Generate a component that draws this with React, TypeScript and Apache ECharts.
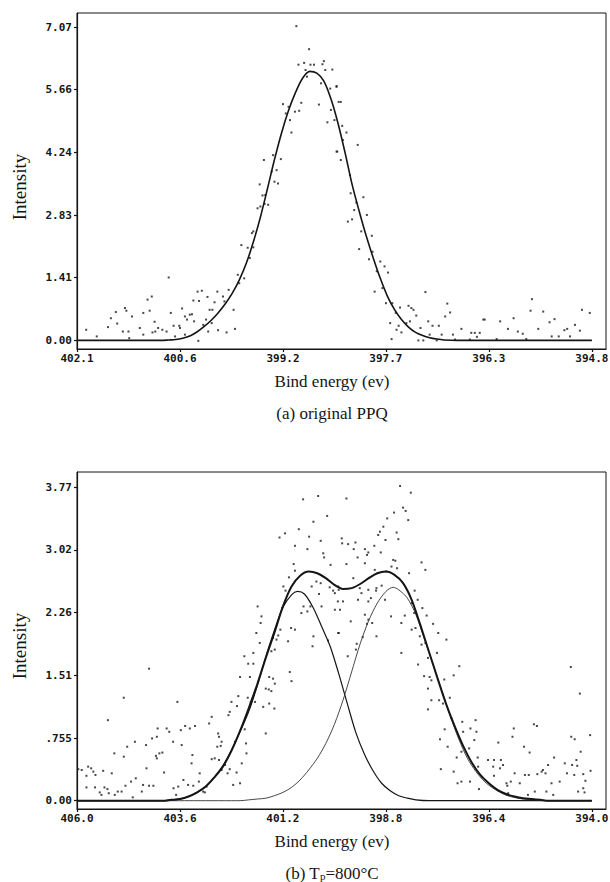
import React, { useEffect, useRef } from "react";
import * as echarts from "echarts";

// ---------- tick values / labels ----------
const topXTicks = [402.1, 400.64, 399.18, 397.72, 396.26, 394.8];
const topXLabels = ["402.1", "400.6", "399.2", "397.7", "396.3", "394.8"];
const topYTicks = [0, 1.414, 2.828, 4.242, 5.656, 7.07];
const topYLabels = ["0.00", "1.41", "2.83", "4.24", "5.66", "7.07"];
const botXTicks = [406.0, 403.6, 401.2, 398.8, 396.4, 394.0];
const botXLabels = ["406.0", "403.6", "401.2", "398.8", "396.4", "394.0"];
const botYTicks = [0, 0.755, 1.51, 2.265, 3.02, 3.775];
const botYLabels = ["0.00", ".755", "1.51", "2.26", "3.02", "3.77"];

// ---------- (a) original PPQ ----------
const topFit: number[][] = [
  [402.1, 0], [401.5, 0], [401.0, 0], [400.9, 0], [400.8, 0.01], [400.7, 0.02], [400.6, 0.05],
  [400.5, 0.1], [400.4, 0.19], [400.3, 0.31], [400.2, 0.45], [400.1, 0.62], [400.0, 0.82],
  [399.9, 1.06], [399.8, 1.36], [399.7, 1.74], [399.6, 2.22], [399.5, 2.78], [399.4, 3.42],
  [399.3, 4.08], [399.2, 4.68], [399.1, 5.19], [399.0, 5.6], [398.9, 5.92], [398.8, 6.07],
  [398.7, 6.03], [398.6, 5.85], [398.5, 5.45], [398.4, 4.9], [398.3, 4.24], [398.2, 3.52],
  [398.1, 2.92], [398.0, 2.36], [397.9, 1.86], [397.8, 1.4], [397.7, 1.0], [397.6, 0.7],
  [397.5, 0.47], [397.4, 0.3], [397.3, 0.18], [397.2, 0.11], [397.1, 0.06], [397.0, 0.03],
  [396.9, 0.01], [396.7, 0], [396.0, 0], [395.5, 0], [394.8, 0],
];

const topScatter: number[][] = [
  [398.99, 7.09], [398.81, 6.57], [398.96, 6.22], [398.88, 6.26], [398.79, 6.22], [398.74, 6.22],
  [398.6, 6.3], [398.62, 6.23], [398.58, 6.1], [398.48, 6.11], [398.86, 6.1], [398.42, 5.74],
  [398.64, 5.8], [398.51, 5.68], [398.67, 5.32], [398.84, 5.95], [398.92, 5.36], [399.01, 5.16],
  [398.95, 5.18], [399.18, 5.33], [399.1, 5.27], [399.14, 5.12], [399.08, 4.97], [399.06, 4.69],
  [398.55, 4.92], [398.45, 4.97], [398.36, 5.38], [398.41, 4.26], [398.5, 5.2],
  [399.32, 4.18], [399.45, 4.07], [399.34, 3.81], [399.27, 3.84], [399.21, 4.09], [399.3, 3.58],
  [399.25, 3.54], [399.51, 3.52], [399.43, 3.28], [399.47, 3.27], [399.54, 2.98], [399.5, 3.02],
  [399.39, 3.06], [399.44, 3.08], [399.6, 2.46], [399.62, 2.42], [399.77, 2.15], [399.68, 2.09],
  [399.6, 2.1], [399.65, 1.86], [399.82, 1.48], [399.8, 1.29], [399.73, 1.4], [399.88, 0.69],
  [399.95, 1.14], [400.03, 0.99], [400.01, 0.88], [400.15, 0.86], [400.11, 1.1], [400.22, 0.69],
  [400.19, 0.39], [400.27, 0.47], [400.31, 0.35], [400.24, 0.2], [400.1, 0.23], [399.98, 0.18],
  [399.86, 0.26],
  [400.8, 1.42], [401.04, 0.99], [401.1, 0.92], [401.16, 0.62], [401.07, 0.67], [401.42, 0.73],
  [401.4, 0.67], [401.55, 0.64], [401.62, 0.5], [401.53, 0.38], [401.66, 0.3], [401.45, 0.2],
  [401.37, 0.2], [401.32, 0.54], [401.21, 0.28], [401.0, 0.42], [401.03, 0.18], [400.95, 0.28],
  [400.89, 0.24], [400.83, 0.2], [400.77, 0.62], [400.73, 0.33], [400.65, 0.33], [400.64, 0.28],
  [400.61, 0.72], [400.57, 0.54], [400.5, 0.58], [400.47, 0.59], [400.54, 0.47], [400.44, 0.43],
  [400.45, 0.9], [400.39, 1.1], [400.33, 1.12], [400.37, 0.89], [400.25, 0.98], [400.18, 0.69],
  [400.57, 0.13], [400.71, 0.09], [400.38, -0.01], [401.97, 0.24], [401.82, 0.09], [401.36, 0.05],
  [401.16, 0.13], [400.99, 0.2],
  [398.42, 5.72], [398.39, 5.38], [398.42, 4.26], [398.36, 4.07], [398.34, 4.84], [398.33, 4.52],
  [398.28, 4.69], [398.12, 4.41], [398.23, 3.73], [398.22, 3.32], [398.14, 3.11], [398.17, 2.94],
  [398.04, 3.23], [398.26, 2.68], [398.2, 2.73], [397.99, 2.83], [398.07, 2.46], [398.1, 2.06],
  [397.92, 2.36], [397.91, 2.0], [397.96, 1.83], [397.85, 1.56], [397.8, 1.78], [397.74, 1.67],
  [397.69, 1.53], [397.88, 1.1], [397.77, 1.18], [397.72, 0.84], [397.63, 0.84], [397.58, 0.62],
  [397.52, 0.74], [397.66, 0.39], [397.57, 0.24], [397.5, 0.18], [397.64, 0.03], [397.54, 0.33],
  [397.43, 0.39], [397.4, 0.78], [397.36, 0.73], [397.33, 0.69], [397.29, 0.56], [397.38, 0.43],
  [397.16, 1.09], [397.23, 0.28], [397.12, 0.43], [397.06, 0.33], [396.97, 0.33], [396.93, 0.13],
  [397.1, 0.13], [397.26, 0.0], [397.19, 0.0], [397.0, 0.0], [396.88, 0.54], [396.85, 0.83],
  [396.81, 0.63], [396.77, 0.13], [396.65, 0.26], [396.51, 0.17], [396.46, 0.17], [396.39, 0.17],
  [396.43, 0.08], [396.34, 0.47], [396.32, 0.47], [396.15, 0.03], [396.1, 0.43], [395.99, 0.26],
  [395.91, 0.5], [395.85, 0.2], [395.78, 0.15], [395.67, 0.67], [395.65, 0.93], [395.56, 0.26],
  [395.49, 0.65], [395.4, 0.41], [395.33, 0.48], [395.37, 0.09], [395.27, 0.09], [395.19, 0.23],
  [395.15, 0.26], [395.11, 0.09], [395.04, 0.35], [394.97, 0.22], [394.94, 0.69], [394.83, 0.62],
  [395.73, 0.03], [396.74, 0.02], [396.53, 0.02],
];

// ---------- (b) Tp = 800°C ----------
const botEnvelope: number[][] = [
  [406.0, 0], [404.6, 0], [404.2, 0], [404.0, 0], [403.8, 0.01], [403.6, 0.02], [403.4, 0.05],
  [403.2, 0.1], [403.0, 0.17], [402.8, 0.28], [402.6, 0.41], [402.4, 0.6], [402.2, 0.84],
  [402.0, 1.11], [401.8, 1.4], [401.6, 1.72], [401.4, 2.02], [401.2, 2.34], [401.0, 2.58],
  [400.8, 2.71], [400.6, 2.76], [400.4, 2.74], [400.2, 2.68], [400.0, 2.6], [399.8, 2.55],
  [399.6, 2.56], [399.4, 2.61], [399.2, 2.68], [399.0, 2.74], [398.8, 2.76], [398.6, 2.72],
  [398.4, 2.62], [398.2, 2.42], [398.0, 2.12], [397.8, 1.8], [397.6, 1.48], [397.4, 1.17],
  [397.2, 0.9], [397.0, 0.66], [396.8, 0.46], [396.6, 0.31], [396.4, 0.21], [396.2, 0.13],
  [396.0, 0.08], [395.8, 0.05], [395.6, 0.03], [395.4, 0.02], [395.2, 0.01], [395.0, 0],
  [394.6, 0], [394.0, 0],
];

const botPeak1: number[][] = [
  [406.0, 0], [404.6, 0], [404.2, 0], [404.0, 0], [403.8, 0.01], [403.6, 0.02], [403.4, 0.05],
  [403.2, 0.1], [403.0, 0.17], [402.8, 0.28], [402.6, 0.42], [402.4, 0.61], [402.2, 0.83],
  [402.0, 1.07], [401.8, 1.38], [401.6, 1.73], [401.4, 2.05], [401.2, 2.33], [401.0, 2.48],
  [400.86, 2.52], [400.7, 2.49], [400.5, 2.33], [400.3, 2.1], [400.1, 1.86], [399.9, 1.53],
  [399.7, 1.17], [399.5, 0.82], [399.3, 0.56], [399.1, 0.36], [398.9, 0.21], [398.7, 0.12],
  [398.5, 0.06], [398.3, 0.03], [398.1, 0.01], [397.8, 0], [397.4, 0], [396.0, 0], [394.0, 0],
];

const botPeak2: number[][] = [
  [406.0, 0], [403.0, 0], [402.4, 0], [402.2, 0], [402.0, 0.01], [401.8, 0.02], [401.6, 0.03],
  [401.4, 0.06], [401.2, 0.1], [401.0, 0.16], [400.8, 0.25], [400.6, 0.37], [400.4, 0.51],
  [400.2, 0.69], [400.0, 0.92], [399.8, 1.21], [399.6, 1.55], [399.4, 1.89], [399.2, 2.17],
  [399.0, 2.38], [398.8, 2.52], [398.63, 2.57], [398.5, 2.54], [398.3, 2.44], [398.1, 2.24],
  [397.9, 1.94], [397.7, 1.64], [397.5, 1.33], [397.3, 1.02], [397.1, 0.74], [396.9, 0.51],
  [396.7, 0.35], [396.5, 0.23], [396.3, 0.15], [396.1, 0.09], [395.9, 0.05], [395.6, 0.02],
  [395.3, 0.01], [395.0, 0], [394.6, 0], [394.0, 0],
];

const botScatter: number[][] = [
  [400.38, 3.67], [400.73, 3.63], [400.49, 3.36], [400.83, 3.27], [401.15, 3.22], [401.28, 3.17],
  [400.32, 3.13], [400.59, 3.18], [400.92, 3.07], [400.63, 3.03], [400.26, 2.98], [400.24, 2.93],
  [400.09, 2.84], [400.95, 2.85], [400.92, 2.77], [401.06, 2.69], [400.17, 3.43], [400.42, 2.64],
  [400.53, 2.58], [400.32, 2.62], [400.11, 2.57], [400.03, 2.53], [399.99, 2.5], [399.91, 2.58],
  [399.87, 2.3], [399.9, 2.02], [400.3, 2.34], [400.15, 1.93], [400.36, 2.49], [400.56, 2.34],
  [400.72, 2.34], [400.77, 2.26], [400.63, 2.28], [400.49, 1.98], [400.51, 1.86], [400.92, 2.06],
  [401.01, 2.08], [401.26, 2.06], [401.08, 1.92], [401.19, 2.58], [401.14, 2.53], [401.22, 2.32],
  [401.43, 1.96], [401.35, 1.94], [401.39, 1.82], [401.47, 1.8], [401.31, 1.99], [401.04, 1.55],
  [401.0, 1.44], [401.52, 1.49], [401.43, 1.47], [401.39, 1.41], [401.6, 1.35], [401.53, 1.34],
  [401.47, 1.32], [401.52, 1.17], [401.66, 1.13], [401.4, 1.11], [401.6, 0.81], [401.7, 2.22],
  [401.79, 2.34], [401.72, 2.14], [401.74, 1.9], [401.82, 2.02], [402.01, 1.65], [401.97, 1.49],
  [401.89, 1.78], [401.89, 1.65], [401.85, 1.19], [401.95, 1.19], [402.02, 1.24], [402.1, 1.74],
  [402.2, 1.49], [402.24, 1.26], [402.27, 1.14], [402.09, 0.86], [402.16, 0.45], [402.2, 0.21],
  [402.28, 0.34], [402.36, 0.19], [402.44, 0.38], [402.49, 0.33], [402.55, 0.43], [402.63, 0.37],
  [402.69, 0.49], [402.73, 0.65], [402.65, 0.66], [402.63, 0.71], [402.69, 0.77], [402.71, 0.81],
  [402.86, 1.01], [402.92, 0.93], [402.47, 1.03], [402.44, 1.07], [402.4, 1.19], [402.32, 0.71],
  [402.06, 0.69], [402.05, 0.57], [402.86, 0.5], [402.79, 0.51], [402.98, 0.17], [403.06, 0.11],
  [403.02, 0.1], [403.14, 0.33], [403.33, 0.45], [403.31, 0.55], [403.37, 0.87], [403.25, 0.9],
  [403.48, 0.9], [403.66, 1.19], [403.56, 0.67], [403.58, 0.85], [403.76, 0.71], [403.75, 0.15],
  [403.69, 0.07], [403.64, 0.17], [403.52, 0.25], [403.41, 0.19], [403.29, 0.18], [403.16, 0.23],
  [403.85, 0.83], [403.91, 0.87], [404.12, 0.87], [404.14, 0.77], [404.25, 0.75], [404.01, 0.58],
  [404.08, 0.57], [404.16, 0.54], [403.97, 0.34], [404.14, 0.51], [404.32, 1.59], [404.39, 0.67],
  [404.38, 0.39], [404.22, 0.18], [404.32, 0.18], [404.49, 0.11], [404.63, 0.27], [404.65, 0.71],
  [404.74, 0.23], [404.83, 0.65], [404.91, 1.24], [404.91, 0.53], [404.87, 0.18], [405.13, 0.57],
  [405.28, 0.97], [405.19, 0.33], [405.39, 0.36], [405.29, 0.14], [405.26, 0.09], [405.36, 0.16],
  [405.47, 0.1], [405.43, 0.07], [405.12, 0.07], [405.05, 0.11], [404.96, 0.11], [405.57, 0.31],
  [405.62, 0.35], [405.67, 0.39], [405.74, 0.41], [405.78, 0.3], [405.89, 0.37], [405.97, 0.38],
  [405.78, 0.16], [405.58, 0.16], [404.7, 0.04], [404.46, 0.19],
  [398.47, 3.79], [398.22, 3.71], [399.72, 3.64], [398.4, 3.53], [398.61, 3.47], [398.77, 3.4],
  [398.34, 3.49], [398.28, 3.38], [398.55, 3.23], [398.51, 3.15], [398.86, 3.3], [398.94, 3.24],
  [398.98, 3.2], [398.81, 3.14], [399.83, 3.16], [399.82, 3.1], [399.68, 3.09], [399.51, 3.11],
  [399.55, 3.03], [399.29, 3.03], [399.24, 2.96], [399.21, 2.99], [399.07, 3.07], [398.92, 2.99],
  [399.46, 2.93], [399.29, 2.86], [399.72, 2.85], [398.63, 2.9], [398.58, 2.89], [398.67, 2.82],
  [398.54, 2.8], [397.97, 2.87], [397.88, 2.78], [398.26, 2.74], [399.06, 2.78], [398.79, 2.76],
  [399.56, 2.68], [399.41, 2.56], [399.37, 2.5], [399.9, 2.54], [399.8, 2.4], [399.92, 2.4],
  [399.99, 2.3], [399.45, 2.42], [399.21, 2.4], [399.15, 2.44], [399.21, 2.54], [399.03, 2.53],
  [398.9, 2.59], [398.68, 2.22], [398.36, 2.23], [398.13, 2.53], [398.06, 2.42], [398.2, 2.38],
  [397.95, 2.32], [398.14, 2.26], [397.85, 2.23], [397.7, 2.13], [399.29, 2.24], [399.21, 2.18],
  [399.24, 2.13], [399.12, 2.14], [399.62, 2.16], [399.91, 2.02], [399.34, 1.97], [399.02, 1.98],
  [399.02, 2.56], [398.82, 2.42], [398.44, 2.14], [398.2, 2.06], [398.11, 2.08], [398.01, 1.98],
  [397.97, 1.88], [397.88, 1.9], [397.58, 2.02], [397.39, 1.94], [397.61, 1.78], [397.82, 1.72],
  [398.44, 1.78], [399.48, 1.89], [399.5, 1.82], [399.69, 1.74], [398.05, 1.64], [397.91, 1.5],
  [397.78, 1.49], [397.74, 1.45], [397.82, 1.35], [397.44, 1.46], [397.22, 1.51], [397.09, 1.62],
  [397.74, 1.21], [397.56, 1.21], [397.82, 1.1], [397.47, 1.17], [397.31, 1.24], [397.43, 0.86],
  [397.54, 0.74], [397.36, 0.65], [397.27, 0.99], [397.02, 0.95], [397.0, 0.83], [396.83, 0.87],
  [396.74, 0.73], [396.69, 0.83], [396.71, 0.97], [397.22, 0.35], [397.52, 0.38], [397.13, 0.21],
  [397.04, 0.23], [396.84, 0.23], [397.15, 0.52], [397.04, 0.59], [396.86, 0.63], [396.66, 0.52],
  [396.65, 0.41], [396.63, 0.14], [396.42, 0.49], [396.28, 0.49], [396.12, 0.49], [396.18, 0.7],
  [396.3, 0.41], [396.14, 0.39], [396.07, 0.43], [396.28, 0.3], [395.99, 0.21], [395.97, 0.18],
  [395.95, 0.09], [395.89, 0.23], [395.8, 0.33], [395.82, 0.87], [395.85, 0.77], [395.68, 0.21],
  [395.58, 0.65], [395.56, 0.31], [395.47, 0.31], [395.45, 0.58], [395.35, 0.92], [395.28, 0.9],
  [395.33, 0.11], [395.27, 0.32], [395.17, 0.35], [395.14, 0.37], [395.08, 0.33], [395.06, 0.11],
  [395.02, 0.43], [394.94, 0.21], [394.9, 0.07], [394.88, 0.52], [394.75, 0.23], [394.63, 0.45],
  [394.58, 0.33], [394.49, 1.61], [394.48, 0.77], [394.4, 0.74], [394.28, 1.29], [394.46, 0.43],
  [394.36, 0.49], [394.34, 0.42], [394.41, 0.31], [394.26, 0.59], [394.2, 0.32], [394.15, 0.24],
  [394.04, 0.79], [394.03, 0.36], [394.17, 0.1], [394.2, 0.15], [395.49, 0.07], [394.32, 0.11],
];

const INK = "#151515";
const SERIF = "'Liberation Serif', 'DejaVu Serif', serif";
const MONO = "'DejaVu Sans Mono', 'Liberation Mono', monospace";

function pick(ticks: number[], labels: string[]) {
  return (v: number) => {
    let best = 0;
    for (let i = 1; i < ticks.length; i++) {
      if (Math.abs(ticks[i] - v) < Math.abs(ticks[best] - v)) best = i;
    }
    return labels[best];
  };
}

function makeX(gridIndex: number, min: number, max: number, ticks: number[], labels: string[]) {
  return {
    type: "value",
    gridIndex,
    inverse: true,
    min,
    max,
    axisLine: { show: true, onZero: false, lineStyle: { color: INK, width: 1.2 } },
    axisTick: { show: true, length: 3, customValues: ticks, lineStyle: { color: INK, width: 1.2 } },
    axisLabel: {
      customValues: ticks,
      formatter: pick(ticks, labels),
      fontFamily: MONO,
      fontWeight: "bold",
      fontSize: 11,
      color: INK,
      margin: 4,
    },
    splitLine: { show: false },
  };
}

function makeY(gridIndex: number, min: number, max: number, ticks: number[], labels: string[]) {
  return {
    type: "value",
    gridIndex,
    min,
    max,
    axisLine: { show: true, onZero: false, lineStyle: { color: INK, width: 1.2 } },
    axisTick: { show: true, length: 3, customValues: ticks, lineStyle: { color: INK, width: 1.2 } },
    axisLabel: {
      customValues: ticks,
      formatter: pick(ticks, labels),
      fontFamily: MONO,
      fontWeight: "bold",
      fontSize: 11,
      color: INK,
      margin: 5,
    },
    splitLine: { show: false },
  };
}

export default function App() {
  const ref = useRef<HTMLDivElement>(null);

  useEffect(() => {
    if (!ref.current) return;
    const chart = echarts.init(ref.current, undefined, { renderer: "svg" });
    const dot = { symbol: "rect", symbolSize: 2, itemStyle: { color: "#1a1a1a" } };
    const line = (data: number[][], width: number, color: string) => ({
      type: "line",
      data,
      smooth: 0.3,
      showSymbol: false,
      lineStyle: { color, width },
    });
    const option: any = {
      animation: false,
      backgroundColor: "#ffffff",
      grid: [
        {
          left: 77, top: 13, width: 529, height: 336, show: true, borderColor: INK, borderWidth: 1,
          backgroundColor: "transparent", outerBoundsMode: "none", containLabel: false,
        },
        {
          left: 77, top: 472, width: 529, height: 337, show: true, borderColor: INK, borderWidth: 1,
          backgroundColor: "transparent", outerBoundsMode: "none", containLabel: false,
        },
      ],
      xAxis: [
        makeX(0, 394.6, 402.1, topXTicks, topXLabels),
        makeX(1, 393.67, 406.0, botXTicks, botXLabels),
      ],
      yAxis: [
        makeY(0, -0.194, 7.386, topYTicks, topYLabels),
        makeY(1, -0.1, 3.959, botYTicks, botYLabels),
      ],
      series: [
        { type: "scatter", xAxisIndex: 0, yAxisIndex: 0, data: topScatter, ...dot },
        { ...line(topFit, 1.6, INK), xAxisIndex: 0, yAxisIndex: 0 },
        { type: "scatter", xAxisIndex: 1, yAxisIndex: 1, data: botScatter, ...dot },
        { ...line(botPeak1, 1.2, INK), xAxisIndex: 1, yAxisIndex: 1 },
        { ...line(botPeak2, 0.9, "#333"), xAxisIndex: 1, yAxisIndex: 1 },
        { ...line(botEnvelope, 2, INK), xAxisIndex: 1, yAxisIndex: 1 },
      ],
      graphic: [
        {
          type: "text", x: 19, y: 187, rotation: Math.PI / 2,
          style: { text: "Intensity", fontFamily: SERIF, fontSize: 19, fill: INK, textAlign: "center", textVerticalAlign: "middle" },
        },
        {
          type: "text", x: 19, y: 646, rotation: Math.PI / 2,
          style: { text: "Intensity", fontFamily: SERIF, fontSize: 19, fill: INK, textAlign: "center", textVerticalAlign: "middle" },
        },
        {
          type: "text", x: 332, y: 381,
          style: { text: "Bind energy (ev)", fontFamily: SERIF, fontSize: 17, fill: INK, textAlign: "center", textVerticalAlign: "middle" },
        },
        {
          type: "text", x: 332, y: 413,
          style: { text: "(a) original PPQ", fontFamily: SERIF, fontSize: 17, fill: INK, textAlign: "center", textVerticalAlign: "middle" },
        },
        {
          type: "text", x: 332, y: 841,
          style: { text: "Bind energy (ev)", fontFamily: SERIF, fontSize: 17, fill: INK, textAlign: "center", textVerticalAlign: "middle" },
        },
        {
          type: "text", x: 332, y: 873,
          style: {
            text: "(b) T{s|p}=800°C",
            fontFamily: SERIF, fontSize: 17, fill: INK, textAlign: "center", textVerticalAlign: "middle",
            rich: {
              s: { fontFamily: SERIF, fontSize: 11, fill: INK, verticalAlign: "bottom", padding: [6, 0, 0, 0] },
            },
          },
        },
      ],
    };
    chart.setOption(option);
    return () => chart.dispose();
  }, []);

  return (
    <div
      ref={ref}
      style={{ position: "absolute", left: 0, top: 0, width: 610, height: 882, background: "#fff" }}
    />
  );
}
